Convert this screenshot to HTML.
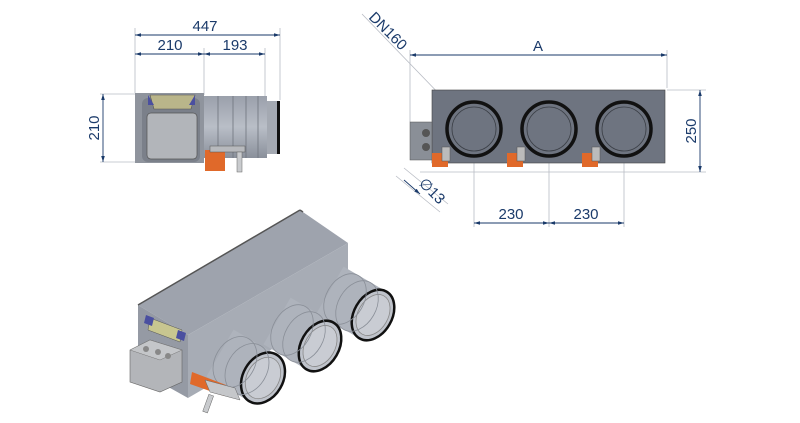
<!DOCTYPE html>
<html><head><style>
html,body{margin:0;padding:0;background:#fff;}
svg{display:block;font-family:"Liberation Sans",sans-serif;}
</style></head><body>
<svg width="800" height="423" viewBox="0 0 800 423" xmlns="http://www.w3.org/2000/svg">
<defs>
<marker id="a" viewBox="0 0 10 6" refX="10" refY="3" markerWidth="10" markerHeight="4" orient="auto-start-reverse"><path d="M0,0 L10,3 L0,6z" fill="#1a3a6a"/></marker>
<linearGradient id="cyl" x1="0" y1="0" x2="0" y2="1"><stop offset="0" stop-color="#9aa0ab"/><stop offset=".5" stop-color="#b9bec7"/><stop offset="1" stop-color="#8a909b"/></linearGradient>
</defs>
<g stroke="#b8bcc4" stroke-width="0.8" fill="none">
<line x1="135" y1="28" x2="135" y2="93"/><line x1="204" y1="48" x2="204" y2="95"/><line x1="265" y1="48" x2="265" y2="100"/><line x1="280" y1="28" x2="280" y2="100"/>
<line x1="100" y1="94" x2="135" y2="94"/><line x1="100" y1="162" x2="140" y2="162"/>
<line x1="410" y1="50" x2="410" y2="122"/><line x1="667" y1="50" x2="667" y2="88"/>
<line x1="667" y1="90" x2="706" y2="90"/><line x1="420" y1="172" x2="706" y2="172"/>
<line x1="474" y1="130" x2="474" y2="227"/><line x1="549" y1="130" x2="549" y2="227"/><line x1="624" y1="130" x2="624" y2="227"/>
<line x1="362" y1="14" x2="474" y2="130"/>
<line x1="396" y1="176" x2="440" y2="212"/><line x1="404" y1="168" x2="448" y2="204"/>
</g>
<g stroke="#1a3a6a" stroke-width="0.9" fill="none">
<line x1="135" y1="35" x2="280" y2="35" marker-start="url(#a)" marker-end="url(#a)"/>
<line x1="135" y1="54" x2="204" y2="54" marker-start="url(#a)" marker-end="url(#a)"/>
<line x1="204" y1="54" x2="265" y2="54" marker-start="url(#a)" marker-end="url(#a)"/>
<line x1="103" y1="94" x2="103" y2="162" marker-start="url(#a)" marker-end="url(#a)"/>
<line x1="410" y1="55" x2="667" y2="55" marker-start="url(#a)" marker-end="url(#a)"/>
<line x1="700" y1="90" x2="700" y2="172" marker-start="url(#a)" marker-end="url(#a)"/>
<line x1="474" y1="223" x2="549" y2="223" marker-start="url(#a)" marker-end="url(#a)"/>
<line x1="549" y1="223" x2="624" y2="223" marker-start="url(#a)" marker-end="url(#a)"/>
<line x1="404" y1="180" x2="420" y2="194" marker-end="url(#a)"/>
<line x1="448" y1="103" x2="455" y2="110" stroke-width="2" stroke="#2050a0"/>
</g>
<g fill="#1a3a6a" font-size="15">
<text x="205" y="31" text-anchor="middle">447</text>
<text x="170" y="50" text-anchor="middle">210</text>
<text x="235" y="50" text-anchor="middle">193</text>
<text transform="translate(99,128) rotate(-90)" text-anchor="middle">210</text>
<text x="538" y="51" text-anchor="middle">A</text>
<text transform="translate(696,131) rotate(-90)" text-anchor="middle">250</text>
<text x="511" y="219" text-anchor="middle">230</text>
<text x="586" y="219" text-anchor="middle">230</text>
<text transform="translate(368,18) rotate(45)">DN160</text>
<text transform="translate(418,184) rotate(45)">∅13</text>
</g>
<!-- left side view -->
<rect x="135" y="93" width="69" height="70" fill="#8f949d"/>
<rect x="142" y="98" width="58" height="64" fill="#7b808a" rx="6"/>
<path d="M150,95 h45 l-4,14 h-37z" fill="#b9b58a" stroke="#555" stroke-width=".6"/>
<path d="M148,95 l6,10 h-6z M195,95 l-6,10 h6z" fill="#4a4fa0"/>
<rect x="147" y="113" width="50" height="46" rx="4" fill="#b2b5ba" stroke="#555" stroke-width=".7"/>
<rect x="204" y="96" width="63" height="62" fill="url(#cyl)"/>
<g stroke="#6f747d" stroke-width=".8"><line x1="218" y1="96" x2="218" y2="158"/><line x1="233" y1="96" x2="233" y2="158"/><line x1="246" y1="96" x2="246" y2="158"/><line x1="258" y1="96" x2="258" y2="158"/></g>
<rect x="267" y="101" width="11" height="53" fill="#a4a9b2"/>
<rect x="277" y="101" width="3" height="53" fill="#111"/>
<rect x="205" y="150" width="20" height="21" fill="#e0692a"/>
<rect x="210" y="146" width="35" height="6" fill="#b7b9bd" stroke="#555" stroke-width=".5"/>
<rect x="237" y="152" width="5" height="20" fill="#c9cbce" stroke="#666" stroke-width=".5"/>
<!-- right front view -->
<rect x="432" y="90" width="233" height="73" fill="#6e7480" stroke="#444" stroke-width=".6"/>
<rect x="410" y="122" width="22" height="38" fill="#8a8f97" stroke="#555" stroke-width=".5"/>
<circle cx="426" cy="133" r="4" fill="#555"/><circle cx="426" cy="147" r="4" fill="#555"/>
<g fill="#6e7480" stroke="#111" stroke-width="3.5">
<circle cx="474" cy="129" r="27"/><circle cx="549" cy="129" r="27"/><circle cx="624" cy="129" r="27"/></g>
<g fill="none" stroke="#3b3f46" stroke-width=".8"><circle cx="474" cy="129" r="22"/><circle cx="549" cy="129" r="22"/><circle cx="624" cy="129" r="22"/></g>
<g fill="#e0692a"><rect x="432" y="153" width="16" height="14"/><rect x="507" y="153" width="16" height="14"/><rect x="582" y="153" width="16" height="14"/></g>
<g fill="#bbb" stroke="#555" stroke-width=".5"><rect x="442" y="147" width="8" height="14"/><rect x="517" y="147" width="8" height="14"/><rect x="592" y="147" width="8" height="14"/></g>
<!-- iso view -->
<polygon points="138,305 300,210 348,243 188,335" fill="#9ea3ad"/>
<polygon points="188,335 348,243 348,305 188,398" fill="#a7acb5"/>
<polygon points="138,305 188,335 188,398 138,370" fill="#959aa4"/>
<line x1="138" y1="305" x2="300" y2="210" stroke="#555" stroke-width="1.5"/>
<line x1="300" y1="210" x2="303" y2="212" stroke="#555" stroke-width="1.5"/>
<path d="M150,318 l32,12 l-2,12 l-32,-12z" fill="#c8c690" stroke="#555" stroke-width=".5"/>
<path d="M146,315 l8,3 l-2,8 l-8,-3z M178,330 l8,3 l-2,8 l-8,-3z" fill="#4a4fa0"/>
<polygon points="130,350 150,340 182,350 182,382 160,392 130,382" fill="#b3b5b9" stroke="#666" stroke-width=".6"/>
<polygon points="150,340 182,350 160,360 130,350" fill="#c4c6c9" stroke="#777" stroke-width=".5"/>
<g fill="#888"><circle cx="146" cy="349" r="3"/><circle cx="158" cy="352" r="3"/><circle cx="168" cy="356" r="3"/></g>
<!-- cylinders -->
<g>
<line x1="330" y1="290" x2="373" y2="315" stroke="#aeb3bc" stroke-width="54"/>
<ellipse cx="373" cy="315" rx="19" ry="27" transform="rotate(30 373 315)" fill="#bfc3cb" stroke="#111" stroke-width="2.5"/>
<ellipse cx="373" cy="315" rx="15" ry="22" transform="rotate(30 373 315)" fill="#c9ccd3" stroke="#888" stroke-width=".8"/>
<g stroke="#8a8f98" stroke-width=".8" fill="none"><ellipse cx="345" cy="299" rx="19" ry="27" transform="rotate(30 345 299)"/><ellipse cx="357" cy="306" rx="19" ry="27" transform="rotate(30 357 306)"/></g>
<line x1="277" y1="321" x2="320" y2="346" stroke="#aeb3bc" stroke-width="54"/>
<ellipse cx="320" cy="346" rx="19" ry="27" transform="rotate(30 320 346)" fill="#bfc3cb" stroke="#111" stroke-width="2.5"/>
<ellipse cx="320" cy="346" rx="15" ry="22" transform="rotate(30 320 346)" fill="#c9ccd3" stroke="#888" stroke-width=".8"/>
<g stroke="#8a8f98" stroke-width=".8" fill="none"><ellipse cx="292" cy="330" rx="19" ry="27" transform="rotate(30 292 330)"/><ellipse cx="304" cy="337" rx="19" ry="27" transform="rotate(30 304 337)"/></g>
<line x1="220" y1="353" x2="263" y2="378" stroke="#aeb3bc" stroke-width="54"/>
<ellipse cx="263" cy="378" rx="20" ry="27" transform="rotate(30 263 378)" fill="#bfc3cb" stroke="#111" stroke-width="2.5"/>
<ellipse cx="263" cy="378" rx="16" ry="22" transform="rotate(30 263 378)" fill="#c9ccd3" stroke="#888" stroke-width=".8"/>
<g stroke="#8a8f98" stroke-width=".8" fill="none"><ellipse cx="235" cy="362" rx="20" ry="27" transform="rotate(30 235 362)"/><ellipse cx="247" cy="369" rx="20" ry="27" transform="rotate(30 247 369)"/></g>
</g>
<polygon points="192,372 226,385 224,396 190,384" fill="#e0692a"/>
<polygon points="205,380 235,388 240,400 210,392" fill="#c5c7ca" stroke="#666" stroke-width=".5"/>
<rect x="207" y="395" width="5" height="18" fill="#c9cbce" stroke="#666" stroke-width=".5" transform="rotate(20 210 400)"/>
</svg>
</body></html>
